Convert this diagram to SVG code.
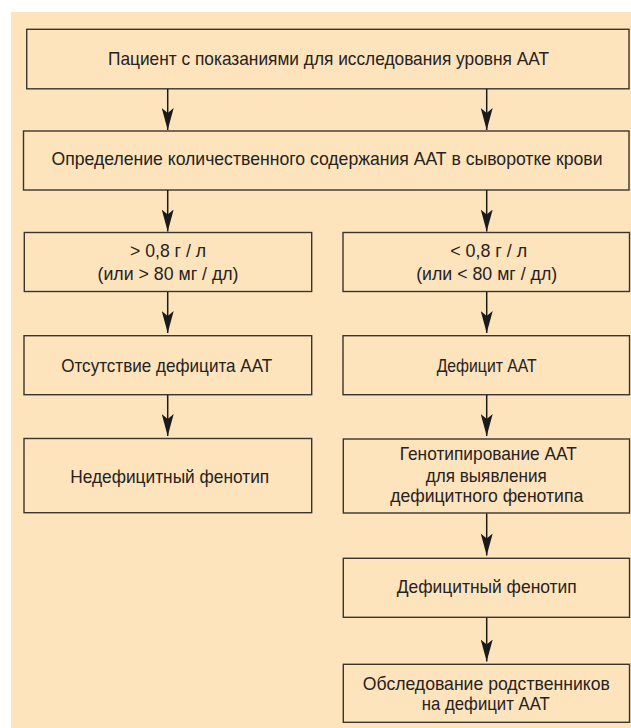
<svg xmlns="http://www.w3.org/2000/svg" width="631" height="728" viewBox="0 0 631 728">
<defs>
<marker id="ah" markerUnits="userSpaceOnUse" markerWidth="22" markerHeight="12" viewBox="0 0 22 12" refX="22" refY="6" orient="auto">
<path d="M0,0 L22,6 L0,12 L5,6 Z" fill="#1a1a1a"/>
</marker>
<style>
.box{fill:none;stroke:#3a3530;stroke-width:1.4}
.t{font-family:"Liberation Sans Narrow","Liberation Sans","DejaVu Sans Condensed",sans-serif;font-size:18.5px;fill:#26221e;text-anchor:middle}
.c{stroke:#1a1a1a;stroke-width:1.5;fill:none;marker-end:url(#ah)}
</style>
</defs>
<rect x="0" y="0" width="631" height="728" fill="#ffffff"/>
<rect x="11" y="12" width="620" height="716" fill="#fde4bd"/>

<g id="n1">
<rect class="box" x="26.7" y="29.3" width="602.3" height="59.5"/>
<text class="t" x="328.5" y="65" textLength="441" lengthAdjust="spacingAndGlyphs">Пациент с показаниями для исследования уровня ААТ</text>
</g>
<g id="n2">
<rect class="box" x="23.5" y="131" width="605.5" height="59"/>
<text class="t" x="327" y="164.5" textLength="551" lengthAdjust="spacingAndGlyphs">Определение количественного содержания ААТ в сыворотке крови</text>
</g>
<g id="n3">
<rect class="box" x="24.3" y="232.5" width="287.4" height="59"/>
<text class="t" x="168" y="257.3" textLength="76" lengthAdjust="spacingAndGlyphs">&gt; 0,8 г / л</text>
<text class="t" x="168" y="280" textLength="141" lengthAdjust="spacingAndGlyphs">(или &gt; 80 мг / дл)</text>
</g>
<g id="n4">
<rect class="box" x="343" y="232.5" width="286.5" height="59"/>
<text class="t" x="488.7" y="257.3" textLength="77" lengthAdjust="spacingAndGlyphs">&lt; 0,8 г / л</text>
<text class="t" x="486.7" y="280" textLength="141" lengthAdjust="spacingAndGlyphs">(или &lt; 80 мг / дл)</text>
</g>
<g id="n5">
<rect class="box" x="24" y="335.7" width="287.7" height="59"/>
<text class="t" x="166.7" y="371.7" textLength="211" lengthAdjust="spacingAndGlyphs">Отсутствие дефицита ААТ</text>
</g>
<g id="n6">
<rect class="box" x="343" y="335.7" width="286.5" height="59"/>
<text class="t" x="486.7" y="371.7" textLength="100" lengthAdjust="spacingAndGlyphs">Дефицит ААТ</text>
</g>
<g id="n7">
<rect class="box" x="24" y="438.5" width="287.7" height="74.2"/>
<text class="t" x="169.7" y="482.7" textLength="199" lengthAdjust="spacingAndGlyphs">Недефицитный фенотип</text>
</g>
<g id="n8">
<rect class="box" x="343.3" y="439" width="286.2" height="74"/>
<text class="t" x="488.3" y="460" textLength="177" lengthAdjust="spacingAndGlyphs">Генотипирование ААТ</text>
<text class="t" x="486.3" y="481.5" textLength="121" lengthAdjust="spacingAndGlyphs">для выявления</text>
<text class="t" x="486.7" y="502" textLength="193" lengthAdjust="spacingAndGlyphs">дефицитного фенотипа</text>
</g>
<g id="n9">
<rect class="box" x="343.3" y="558.3" width="286.2" height="59"/>
<text class="t" x="486.7" y="593.3" textLength="180" lengthAdjust="spacingAndGlyphs">Дефицитный фенотип</text>
</g>
<g id="n10">
<rect class="box" x="343.3" y="664.3" width="286.2" height="58"/>
<text class="t" x="486.3" y="690" textLength="247" lengthAdjust="spacingAndGlyphs">Обследование родственников</text>
<text class="t" x="485.8" y="710" textLength="128" lengthAdjust="spacingAndGlyphs">на дефицит ААТ</text>
</g>

<g id="connectors">
<line class="c" x1="167.7" y1="89" x2="167.7" y2="130"/>
<line class="c" x1="486.7" y1="89" x2="486.7" y2="130"/>
<line class="c" x1="167.7" y1="190" x2="167.7" y2="231.5"/>
<line class="c" x1="486.7" y1="190" x2="486.7" y2="231.5"/>
<line class="c" x1="167.7" y1="292" x2="167.7" y2="333"/>
<line class="c" x1="486.7" y1="292" x2="486.7" y2="333"/>
<line class="c" x1="167.7" y1="395" x2="167.7" y2="436"/>
<line class="c" x1="486.7" y1="395" x2="486.7" y2="436"/>
<line class="c" x1="486.7" y1="513.5" x2="486.7" y2="555.5"/>
<line class="c" x1="486.7" y1="617.5" x2="486.7" y2="661.5"/>
</g>
</svg>
